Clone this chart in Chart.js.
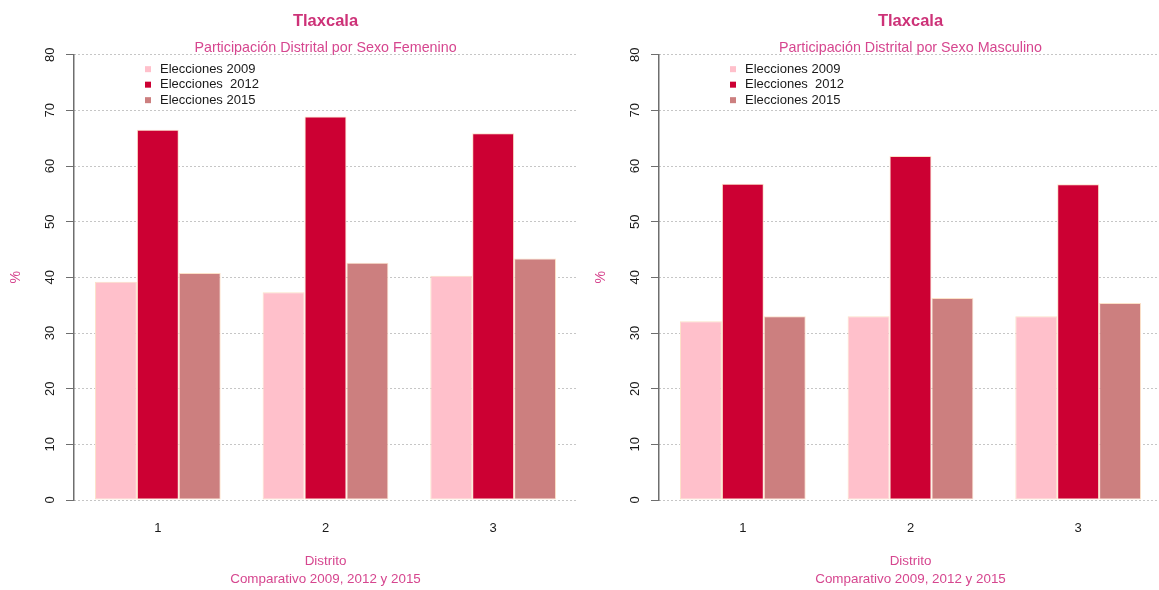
<!DOCTYPE html>
<html>
<head>
<meta charset="utf-8">
<script src="https://cdn.jsdelivr.net/npm/chart.js@4.4.1/dist/chart.umd.min.js"></script>
<style>
  html, body { margin: 0; padding: 0; background: #ffffff; overflow: hidden; }
  #wrap { position: relative; width: 1159px; height: 590px; overflow: hidden; }
  #wrap canvas { position: absolute; top: 0; }
</style>
</head>
<body>
<div id="wrap">
  <canvas id="femenino" width="585" height="590" style="left:0px"></canvas>
  <canvas id="masculino" width="585" height="590" style="left:585px"></canvas>
</div>
<script>
// Distritos y series (porcentaje de participación)
const distritos = ['1', '2', '3'];
const seriesLabels = ['Elecciones 2009', 'Elecciones  2012', 'Elecciones 2015'];

const femenino2009 = [39.2, 37.3, 40.3];
const femenino2012 = [66.5, 68.9, 65.9];
const femenino2015 = [40.8, 42.6, 43.4];

const masculino2009 = [32.1, 33.0, 33.0];
const masculino2012 = [56.8, 61.8, 56.7];
const masculino2015 = [33.0, 36.3, 35.4];

const yTicks = [0, 10, 20, 30, 40, 50, 60, 70, 80];

const seriesColors = ['#FFC0CB', '#CC0033', '#CC7F7F'];
const barBorder = '#FCE1C8';
const pink = '#CD3278';
const pinkLight = '#D6468F';
const FONT = '"Liberation Sans", Arial, Helvetica, sans-serif';

Chart.defaults.font.family = FONT;
Chart.defaults.color = '#1a1a1a';

// Leyenda dentro del área de trazado, arriba a la izquierda
const innerLegend = {
  id: 'innerLegend',
  afterDatasetsDraw(chart) {
    const { ctx, chartArea } = chart;
    ctx.save();
    ctx.font = '13px ' + FONT;
    ctx.textBaseline = 'middle';
    ctx.textAlign = 'left';
    chart.data.datasets.forEach((ds, i) => {
      const y = chartArea.top + 14.5 + i * 15.5;
      ctx.fillStyle = ds.backgroundColor;
      ctx.fillRect(chartArea.left + 71, y - 3, 6, 6);
      ctx.fillStyle = '#1a1a1a';
      ctx.fillText(ds.label, chartArea.left + 86, y);
    });
    ctx.restore();
  }
};

function buildChart(canvasId, subtitle, s2009, s2012, s2015) {
  const values = [s2009, s2012, s2015];
  return new Chart(document.getElementById(canvasId), {
    type: 'bar',
    data: {
      labels: distritos,
      datasets: values.map((v, i) => ({
        label: seriesLabels[i],
        data: v,
        backgroundColor: seriesColors[i],
        borderColor: barBorder,
        borderWidth: 1,
        borderSkipped: false,
        categoryPercentage: 0.75,
        barPercentage: 1.0
      }))
    },
    options: {
      responsive: false,
      animation: false,
      events: [],
      layout: { padding: { top: 0, right: 8, bottom: 0, left: 0 } },
      plugins: {
        legend: { display: false },
        tooltip: { enabled: false },
        title: {
          display: true,
          text: 'Tlaxcala',
          fullSize: false,
          color: pink,
          font: { size: 16.5, weight: 'bold' },
          padding: { top: 12, bottom: 0 }
        },
        subtitle: {
          display: true,
          text: subtitle,
          fullSize: false,
          color: pinkLight,
          font: { size: 14.3, lineHeight: 0.9 },
          padding: { top: 10, bottom: 0 }
        }
      },
      scales: {
        x: {
          type: 'category',
          grid: { display: false, drawTicks: false },
          border: { display: false },
          ticks: { color: '#1a1a1a', font: { size: 13 }, padding: 21 },
          title: {
            display: true,
            text: ['Distrito', 'Comparativo 2009, 2012 y 2015'],
            color: pinkLight,
            font: { size: 13.4, lineHeight: 18 / 13.4 },
            padding: { top: 17, bottom: 2 }
          },
          afterFit(scale) { scale.height = 90; }
        },
        y: {
          min: 0,
          max: 80,
          afterBuildTicks(scale) { scale.ticks = yTicks.map(v => ({ value: v })); },
          grid: {
            color: '#8c8c8c',
            lineWidth: 1,
            drawTicks: true,
            tickLength: 8,
            tickColor: '#6e6e6e',
            tickWidth: 1
          },
          border: { display: true, color: '#6e6e6e', width: 1.5, dash: [1, 3] },
          ticks: {
            color: '#1a1a1a',
            font: { size: 13 },
            minRotation: 90,
            maxRotation: 90,
            crossAlign: 'center',
            padding: 8
          },
          title: {
            display: true,
            text: '%',
            color: pinkLight,
            font: { size: 14 },
            padding: { top: 8, bottom: 0 }
          },
          afterFit(scale) { scale.width = 74; }
        }
      }
    },
    plugins: [innerLegend]
  });
}

buildChart('femenino', 'Participación Distrital por Sexo Femenino', femenino2009, femenino2012, femenino2015);
buildChart('masculino', 'Participación Distrital por Sexo Masculino', masculino2009, masculino2012, masculino2015);
</script>
</body>
</html>
